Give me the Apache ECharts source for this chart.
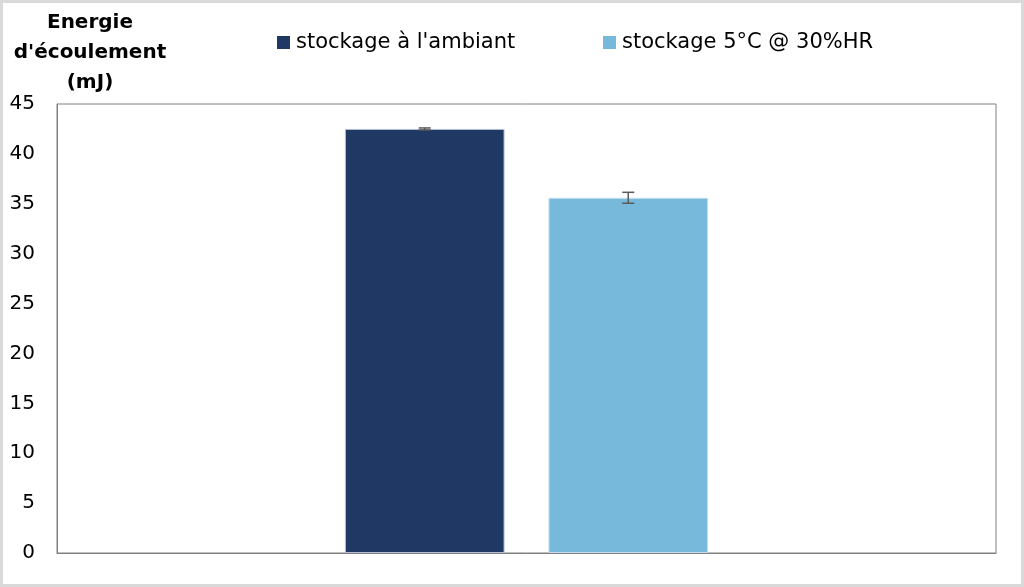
<!DOCTYPE html>
<html><head><meta charset="utf-8">
<script src="https://cdn.jsdelivr.net/npm/echarts@6/dist/echarts.min.js"></script>
<style>html,body{margin:0;padding:0;background:#fff}#c{width:1024px;height:587px}</style>
</head><body><div id="c"></div>
<script>
var categories = [''];
var seriesNames = ["stockage à l'ambiant", "stockage 5°C @ 30%HR"];
var ambientValues = [42.5];
var ambientErrors = [0.1];
var coldValues = [35.6];
var coldErrors = [0.55];
var yTicks = [0, 5, 10, 15, 20, 25, 30, 35, 40, 45];
var axisTitleLines = ['Energie', "d'écoulement", '(mJ)'];

var chart = echarts.init(document.getElementById('c'));
var FONT = 'DejaVu Sans';
var BAR_FRAC = 0.17, GAP_FRAC = 0.275;

function errSeries(values, errors, sign) {
  return {
    type: 'custom',
    z: 10,
    silent: true,
    data: values.map(function (v, i) { return [i, v, errors[i]]; }),
    encode: { x: 0, y: 1 },
    renderItem: function (params, api) {
      var band = api.size([1, 0])[0];
      var off = sign * (BAR_FRAC / 2 + BAR_FRAC * GAP_FRAC / 2) * band;
      var v = api.value(1), e = api.value(2);
      var top = api.coord([api.value(0), v + e]);
      var bot = api.coord([api.value(0), v - e]);
      var x = top[0] + off, hw = 6;
      var st = { stroke: '#595959', lineWidth: 1.5 };
      return { type: 'group', children: [
        { type: 'line', shape: { x1: x, y1: top[1], x2: x, y2: bot[1] }, style: st },
        { type: 'line', shape: { x1: x - hw, y1: top[1], x2: x + hw, y2: top[1] }, style: st },
        { type: 'line', shape: { x1: x - hw, y1: bot[1], x2: x + hw, y2: bot[1] }, style: st }
      ]};
    }
  };
}

var legendCommon = {
  top: 27, itemWidth: 13, itemHeight: 13, icon: 'rect',
  itemStyle: { borderWidth: 0 },
  textStyle: { fontFamily: FONT, fontSize: 21, color: '#000', padding: [0, 0, 0, 1] }
};

chart.setOption({
  animation: false,
  graphic: [
    { type: 'rect', shape: { x: 1.5, y: 1.5, width: 1021, height: 584 }, style: { fill: 'none', stroke: '#d9d9d9', lineWidth: 3 }, z: 100 },
    { type: 'text', x: 90, y: 8, style: { text: axisTitleLines.join('\n'), font: 'bold 20px ' + FONT, fill: '#000', align: 'center', lineHeight: 30 } }
  ],
  grid: { left: 57, right: 28, top: 104, bottom: 34, show: true, borderColor: '#808080', borderWidth: 1, backgroundColor: '#fff' },
  legend: [
    Object.assign({ left: 272, data: [seriesNames[0]] }, legendCommon),
    Object.assign({ left: 598, data: [seriesNames[1]] }, legendCommon)
  ],
  xAxis: {
    type: 'category', data: categories,
    axisLine: { show: true, lineStyle: { color: '#808080' } },
    axisTick: { show: false }, axisLabel: { show: false }
  },
  yAxis: {
    type: 'value', min: 0, max: 45, interval: 5,
    axisLine: { show: true, lineStyle: { color: '#808080' } },
    axisTick: { show: false },
    splitLine: { show: false },
    axisLabel: { fontFamily: FONT, fontSize: 20, color: '#000', margin: 22,
      formatter: function (v) { return yTicks.indexOf(v) >= 0 ? String(v) : ''; } }
  },
  series: [
    { name: seriesNames[0], type: 'bar', data: ambientValues, barWidth: (BAR_FRAC * 100) + '%', barGap: (GAP_FRAC * 100) + '%',
      itemStyle: { color: '#203864', borderColor: '#b4bfd3', borderWidth: 1 } },
    { name: seriesNames[1], type: 'bar', data: coldValues, barWidth: (BAR_FRAC * 100) + '%',
      itemStyle: { color: '#76b9db', borderColor: '#c9dcf0', borderWidth: 1 } },
    errSeries(ambientValues, ambientErrors, -1),
    errSeries(coldValues, coldErrors, 1)
  ]
});
</script></body></html>
